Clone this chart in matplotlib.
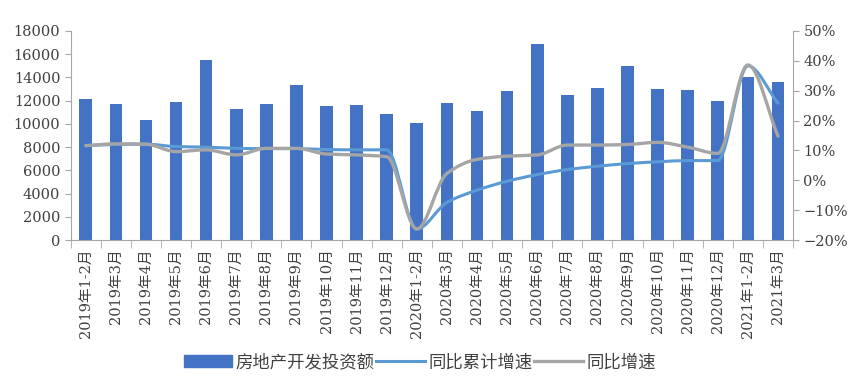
import numpy as np
import matplotlib.pyplot as plt
from matplotlib.path import Path
from matplotlib.patches import PathPatch
from matplotlib.lines import Line2D
from matplotlib.patches import Patch

plt.rcParams['font.family'] = ['DejaVu Serif', 'Noto Sans CJK SC']

months = ['2019年1-2月', '2019年3月', '2019年4月', '2019年5月', '2019年6月', '2019年7月',
          '2019年8月', '2019年9月', '2019年10月', '2019年11月', '2019年12月',
          '2020年1-2月', '2020年3月', '2020年4月', '2020年5月', '2020年6月', '2020年7月',
          '2020年8月', '2020年9月', '2020年10月', '2020年11月', '2020年12月',
          '2021年1-2月', '2021年3月']
invest = [12100, 11750, 10350, 11880, 15500, 11280, 11710, 13350, 11540, 11620, 10850,
          10070, 11800, 11110, 12830, 16880, 12490, 13090, 14980, 13000, 12920, 11970,
          14030, 13600]
cum_growth = [11.6, 12.0, 12.1, 11.3, 11.1, 10.7, 10.6, 10.6, 10.3, 10.2, 10.2,
              -16.3, -7.4, -3.3, -0.3, 1.9, 3.6, 4.7, 5.6, 6.2, 6.6, 6.6,
              38.3, 25.8]
mon_growth = [11.6, 12.2, 12.1, 9.6, 10.2, 8.5, 10.7, 10.7, 8.8, 8.5, 7.9,
              -16.3, 2.3, 7.0, 8.1, 8.5, 11.8, 11.8, 12.0, 12.7, 11.1, 9.0,
              38.6, 14.8]

bar_c = '#4472C4'
cum_c = '#5B9BD5'
mon_c = '#A5A5A5'
axis_c = '#A6A6A6'
text_c = '#404040'


def smooth_path(x, y):
    # smoothed line drawn as cubic Bezier segments, monotone tangents (no overshoot)
    x = np.asarray(x, float)
    y = np.asarray(y, float)
    d = np.diff(y) / np.diff(x)
    m = np.zeros_like(y)
    m[0], m[-1] = d[0], d[-1]
    for i in range(1, len(y) - 1):
        if d[i - 1] * d[i] <= 0:
            m[i] = 0.0
        else:
            m[i] = 2 / (1 / d[i - 1] + 1 / d[i])
    verts = [(x[0], y[0])]
    codes = [Path.MOVETO]
    for i in range(len(x) - 1):
        h = x[i + 1] - x[i]
        verts += [(x[i] + h / 3, y[i] + m[i] * h / 3),
                  (x[i + 1] - h / 3, y[i + 1] - m[i + 1] * h / 3),
                  (x[i + 1], y[i + 1])]
        codes += [Path.CURVE4] * 3
    return Path(verts, codes)


fig = plt.figure(figsize=(8.62, 3.86), dpi=100)
ax = fig.add_axes([0.082, 0.378, 0.838, 0.542])
x = np.arange(len(months))
ax.bar(x, invest, width=0.42, color=bar_c, zorder=2)
ax.set_xlim(-0.5, len(months) - 0.5)
ax.set_ylim(0, 18000)
ax.set_yticks(range(0, 18001, 2000))
ax.set_xticks(x)
ax.set_xticklabels(months, rotation=90, fontsize=10.5, color=text_c)
ax.tick_params(axis='x', length=0, pad=6)
ax.set_xticks(np.arange(-0.5, len(months), 1), minor=True)
ax.tick_params(axis='x', which='minor', length=6, color=axis_c)
ax.tick_params(axis='y', labelsize=10.5, labelcolor=text_c, color=axis_c, length=4)
for s in ['top', 'right']:
    ax.spines[s].set_visible(False)
for s in ['left', 'bottom']:
    ax.spines[s].set_color(axis_c)

ax2 = ax.twinx()
ax2.set_ylim(-20, 50)
ax2.set_yticks(range(-20, 51, 10))
ax2.set_yticklabels([f'{v}%' if v >= 0 else f'\u2212{-v}%' for v in range(-20, 51, 10)])
ax2.tick_params(axis='y', labelsize=10.5, labelcolor=text_c, color=axis_c, length=4)
for s in ['top', 'left', 'bottom']:
    ax2.spines[s].set_visible(False)
ax2.spines['right'].set_color(axis_c)

ax2.add_patch(PathPatch(smooth_path(x, cum_growth), fill=False, edgecolor=cum_c,
                        lw=2.2, capstyle='round', zorder=3))
ax2.add_patch(PathPatch(smooth_path(x, mon_growth), fill=False, edgecolor=mon_c,
                        lw=2.4, capstyle='round', zorder=4))

handles = [Patch(color=bar_c), Line2D([], [], color=cum_c, lw=2.2),
           Line2D([], [], color=mon_c, lw=2.4)]
fig.legend(handles, ['房地产开发投资额', '同比累计增速', '同比增速'], loc='center',
           bbox_to_anchor=(0.487, 0.06), ncol=3, frameon=False, fontsize=12.5,
           handlelength=2.8, handletextpad=0.2, columnspacing=0.1,
           labelcolor=text_c)

fig.savefig('out.png', dpi=100)
